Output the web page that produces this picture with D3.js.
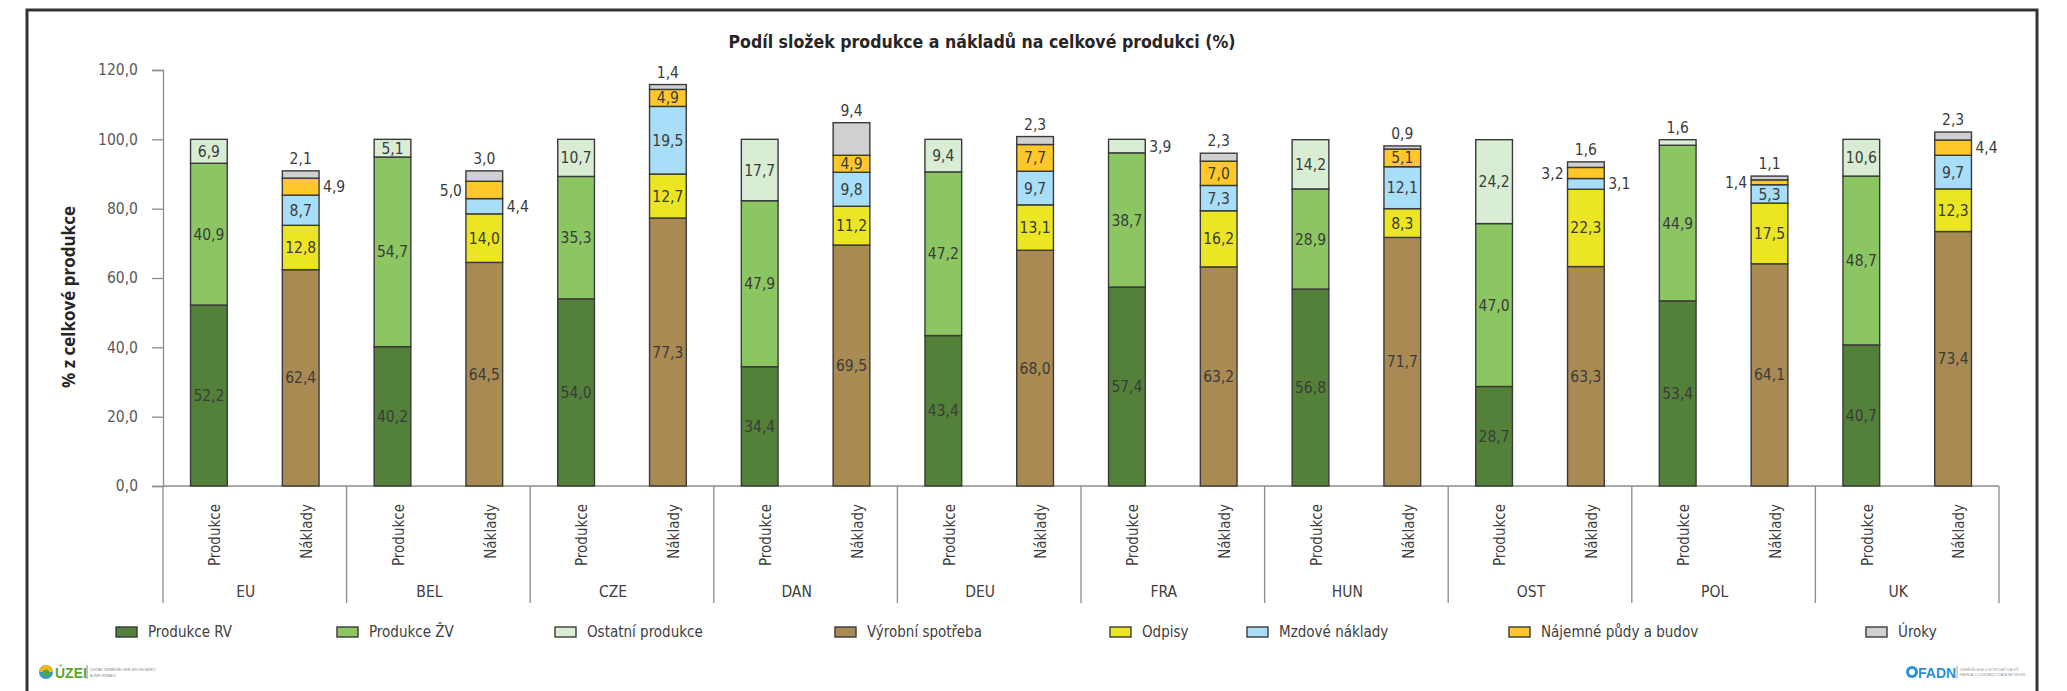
<!doctype html>
<html>
<head>
<meta charset="UTF-8">
<script src="https://d3js.org/d3.v7.min.js"></script>
<style>
  body { margin: 0; background: #fff; }
  text { font-family: "DejaVu Sans Condensed", "Liberation Sans Narrow", "Arial Narrow", sans-serif; }
</style>
</head>
<body>
<script>
// ---- data ----
const countries = ["EU", "BEL", "CZE", "DAN", "DEU", "FRA", "HUN", "OST", "POL", "UK"];
const categories = ["Produkce", "Náklady"];

const prodSeries = ["Produkce RV", "Produkce ŽV", "Ostatní produkce"];
const costSeries = ["Výrobní spotřeba", "Odpisy", "Mzdové náklady", "Nájemné půdy a budov", "Úroky"];

const produkceRV = [52.2, 40.2, 54.0, 34.4, 43.4, 57.4, 56.8, 28.7, 53.4, 40.7];
const produkceZV = [40.9, 54.7, 35.3, 47.9, 47.2, 38.7, 28.9, 47.0, 44.9, 48.7];
const ostatniProdukce = [6.9, 5.1, 10.7, 17.7, 9.4, 3.9, 14.2, 24.2, 1.6, 10.6];

const vyrobniSpotreba = [62.4, 64.5, 77.3, 69.5, 68.0, 63.2, 71.7, 63.3, 64.1, 73.4];
const odpisy = [12.8, 14.0, 12.7, 11.2, 13.1, 16.2, 8.3, 22.3, 17.5, 12.3];
const mzdoveNaklady = [8.7, 4.4, 19.5, 9.8, 9.7, 7.3, 12.1, 3.1, 5.3, 9.7];
const najemne = [4.9, 5.0, 4.9, 4.9, 7.7, 7.0, 5.1, 3.2, 1.4, 4.4];
const uroky = [2.1, 3.0, 1.4, 9.4, 2.3, 2.3, 0.9, 1.6, 1.1, 2.3];

const yTicks = [0, 20, 40, 60, 80, 100, 120];

const title = "Podíl složek produkce a nákladů na celkové produkci (%)";
const yTitle = "% z celkové produkce";

// ---- styling ----
const colors = {
  "Produkce RV": "#538139",
  "Produkce ŽV": "#8bc663",
  "Ostatní produkce": "#d9edd5",
  "Výrobní spotřeba": "#aa8a53",
  "Odpisy": "#ece523",
  "Mzdové náklady": "#a8def8",
  "Nájemné půdy a budov": "#fec82c",
  "Úroky": "#d0d0d0"
};

// labels that sit outside of their segment (as in the source chart)
const outsideLabels = {
  "FRA|Ostatní produkce": "right",
  "POL|Ostatní produkce": "top",
  "EU|Nájemné půdy a budov": "right",
  "BEL|Nájemné půdy a budov": "left",
  "BEL|Mzdové náklady": "right",
  "OST|Nájemné půdy a budov": "left",
  "OST|Mzdové náklady": "right",
  "POL|Nájemné půdy a budov": "left",
  "UK|Nájemné půdy a budov": "right"
};

const legendX = [116, 337, 555, 835, 1110, 1247, 1509, 1866];

const width = 2067, height = 691;
const margin = { left: 163, right: 68, top: 70, bottom: 205 };

const svg = d3.select("body").append("svg")
  .attr("width", width)
  .attr("height", height);

// frame
svg.append("rect")
  .attr("x", 27).attr("y", 10)
  .attr("width", 2037 - 27).attr("height", 720)
  .attr("fill", "none")
  .attr("stroke", "#333")
  .attr("stroke-width", 3);

const fmt = d3.formatLocale({ decimal: ",", thousands: " ", grouping: [3], currency: ["", ""] }).format(".1f");

const x0 = d3.scaleBand()
  .domain(countries)
  .range([margin.left, width - margin.right])
  .padding(0);

const x1 = d3.scaleBand()
  .domain(categories)
  .range([0, x0.bandwidth()])
  .paddingInner(0.6)
  .paddingOuter(0.3);

const y = d3.scaleLinear()
  .domain([0, 120])
  .range([height - margin.bottom, margin.top]);

// table rows per country
const rows = countries.map((c, i) => ({
  country: c,
  "Produkce RV": produkceRV[i],
  "Produkce ŽV": produkceZV[i],
  "Ostatní produkce": ostatniProdukce[i],
  "Výrobní spotřeba": vyrobniSpotreba[i],
  "Odpisy": odpisy[i],
  "Mzdové náklady": mzdoveNaklady[i],
  "Nájemné půdy a budov": najemne[i],
  "Úroky": uroky[i]
}));

const stacks = {
  "Produkce": d3.stack().keys(prodSeries)(rows),
  "Náklady": d3.stack().keys(costSeries)(rows)
};

// title
svg.append("text")
  .attr("x", 982).attr("y", 48)
  .attr("text-anchor", "middle")
  .attr("textLength", 507)
  .attr("lengthAdjust", "spacingAndGlyphs")
  .style("font-size", "18px")
  .style("font-weight", "bold")
  .attr("fill", "#262626")
  .text(title);

// y axis title
svg.append("text")
  .attr("transform", "translate(75," + ((y(0) + y(120)) / 2 + 19) + ")rotate(-90)")
  .attr("text-anchor", "middle")
  .style("font-family", "'Open Sans', sans-serif")
  .style("font-size", "17px")
  .style("font-weight", "bold")
  .attr("fill", "#262626")
  .text(yTitle);

// y axis
const yAxis = svg.append("g")
  .attr("transform", "translate(" + margin.left + ",0)")
  .call(d3.axisLeft(y).tickValues(yTicks).tickFormat(fmt).tickSize(11).tickPadding(14));
yAxis.select(".domain").attr("stroke", "#8c8c8c").attr("stroke-width", 1.3);
yAxis.selectAll(".tick line").attr("stroke", "#8c8c8c").attr("stroke-width", 1.3);
yAxis.selectAll(".tick text")
  .attr("fill", "#595959")
  .style("font-size", "15.5px")
  .style("font-family", "'DejaVu Sans Condensed', 'Liberation Sans Narrow', sans-serif");

// x axis line + group separators
const axisY = y(0);
svg.append("line")
  .attr("x1", margin.left).attr("x2", width - margin.right)
  .attr("y1", axisY).attr("y2", axisY)
  .attr("stroke", "#8c8c8c").attr("stroke-width", 1.3);

const bounds = countries.map(c => x0(c)).concat([x0(countries[countries.length - 1]) + x0.bandwidth()]);
svg.selectAll(".sep")
  .data(bounds)
  .enter().append("line")
  .attr("class", "sep")
  .attr("x1", d => d).attr("x2", d => d)
  .attr("y1", axisY).attr("y2", axisY + 117)
  .attr("stroke", "#8c8c8c").attr("stroke-width", 1.3);

// bars
const groups = svg.selectAll(".country")
  .data(countries)
  .enter().append("g")
  .attr("class", "country")
  .attr("transform", d => "translate(" + x0(d) + ",0)");

categories.forEach(cat => {
  stacks[cat].forEach(layer => {
    const key = layer.key;
    layer.forEach((seg, i) => {
      const c = countries[i];
      const g = groups.filter(d => d === c);
      const bx = x1(cat), bw = x1.bandwidth();
      g.append("rect")
        .attr("x", bx)
        .attr("y", y(seg[1]))
        .attr("width", bw)
        .attr("height", y(seg[0]) - y(seg[1]))
        .attr("fill", colors[key])
        .attr("stroke", "#3a3a3a")
        .attr("stroke-width", 1.4);

      let pos = outsideLabels[c + "|" + key] || "in";
      if (key === "Úroky") pos = "top";
      const val = seg[1] - seg[0];
      const mid = y((seg[0] + seg[1]) / 2);
      const t = g.append("text")
        .attr("fill", "#3b3b3b")
        .style("font-size", "15.5px")
        .text(fmt(val));
      if (pos === "in") {
        t.attr("x", bx + bw / 2).attr("y", mid).attr("dy", "0.36em").attr("text-anchor", "middle");
      } else if (pos === "top") {
        t.attr("x", bx + bw / 2).attr("y", y(seg[1]) - 7).attr("text-anchor", "middle");
      } else if (pos === "right") {
        t.attr("x", bx + bw + 4).attr("y", mid).attr("dy", "0.36em").attr("text-anchor", "start");
      } else {
        t.attr("x", bx - 4).attr("y", mid).attr("dy", "0.36em").attr("text-anchor", "end");
      }
    });
  });
});

// category labels (rotated)
groups.selectAll(".cat")
  .data(categories)
  .enter().append("text")
  .attr("class", "cat")
  .attr("transform", d => "translate(" + (x1(d) + x1.bandwidth() / 2) + "," + (axisY + 18) + ")rotate(-90)")
  .attr("text-anchor", "end")
  .attr("dy", "0.75em")
  .attr("fill", "#404040")
  .style("font-size", "15px")
  .text(d => d);

// country labels
groups.append("text")
  .attr("x", x0.bandwidth() / 2 - 9)
  .attr("y", axisY + 111)
  .attr("text-anchor", "middle")
  .attr("fill", "#404040")
  .style("font-size", "15.5px")
  .text(d => d);

// legend
const legendKeys = prodSeries.concat(costSeries);
const legend = svg.selectAll(".legend")
  .data(legendKeys)
  .enter().append("g")
  .attr("class", "legend")
  .attr("transform", (d, i) => "translate(" + legendX[i] + ",627)");
legend.append("rect")
  .attr("width", 21).attr("height", 10)
  .attr("fill", d => colors[d])
  .attr("stroke", "#3a3a3a").attr("stroke-width", 1.4);
legend.append("text")
  .attr("x", 32).attr("y", 5).attr("dy", "0.36em")
  .attr("fill", "#404040")
  .style("font-size", "15px")
  .text(d => d);

// logos (simplified)
const uzei = svg.append("g").attr("transform", "translate(39,665)");
uzei.append("circle").attr("cx", 7).attr("cy", 7).attr("r", 7).attr("fill", "#2c9bd6");
uzei.append("path").attr("d", "M0,7 A7,7 0 0 1 14,7 Z").attr("fill", "#f4b81c");
uzei.append("circle").attr("cx", 7).attr("cy", 8).attr("r", 3.5).attr("fill", "#5aa832");
uzei.append("text").attr("x", 16).attr("y", 13)
  .style("font-family", "'Liberation Sans', Arial, sans-serif")
  .style("font-size", "14px").style("font-weight", "bold")
  .attr("fill", "#5aa832").text("ÚZEI");
uzei.append("line").attr("x1", 48).attr("x2", 48).attr("y1", 0).attr("y2", 14).attr("stroke", "#888");
uzei.append("text").attr("x", 51).attr("y", 6)
  .style("font-family", "'Liberation Sans', Arial, sans-serif")
  .style("font-size", "4px").attr("fill", "#888").text("ÚSTAV ZEMĚDĚLSKÉ EKONOMIKY");
uzei.append("text").attr("x", 51).attr("y", 12)
  .style("font-family", "'Liberation Sans', Arial, sans-serif")
  .style("font-size", "4px").attr("fill", "#888").text("A INFORMACÍ");

const fadn = svg.append("g").attr("transform", "translate(1906,666)");
fadn.append("circle").attr("cx", 6).attr("cy", 6).attr("r", 6).attr("fill", "#2c8fd0");
fadn.append("circle").attr("cx", 6).attr("cy", 6).attr("r", 3).attr("fill", "#fff");
fadn.append("text").attr("x", 12).attr("y", 12)
  .style("font-family", "'Liberation Sans', Arial, sans-serif")
  .style("font-size", "14px").style("font-weight", "bold")
  .attr("fill", "#2c8fd0").text("FADN");
fadn.append("line").attr("x1", 51).attr("x2", 51).attr("y1", 0).attr("y2", 13).attr("stroke", "#aaa");
fadn.append("text").attr("x", 54).attr("y", 5)
  .style("font-family", "'Liberation Sans', Arial, sans-serif")
  .style("font-size", "3.5px").attr("fill", "#999").text("ZEMĚDĚLSKÁ ÚČETNÍ DATOVÁ SÍŤ");
fadn.append("text").attr("x", 54).attr("y", 10)
  .style("font-family", "'Liberation Sans', Arial, sans-serif")
  .style("font-size", "3.5px").attr("fill", "#999").text("FARM ACCOUNTANCY DATA NETWORK");
</script>
</body>
</html>
